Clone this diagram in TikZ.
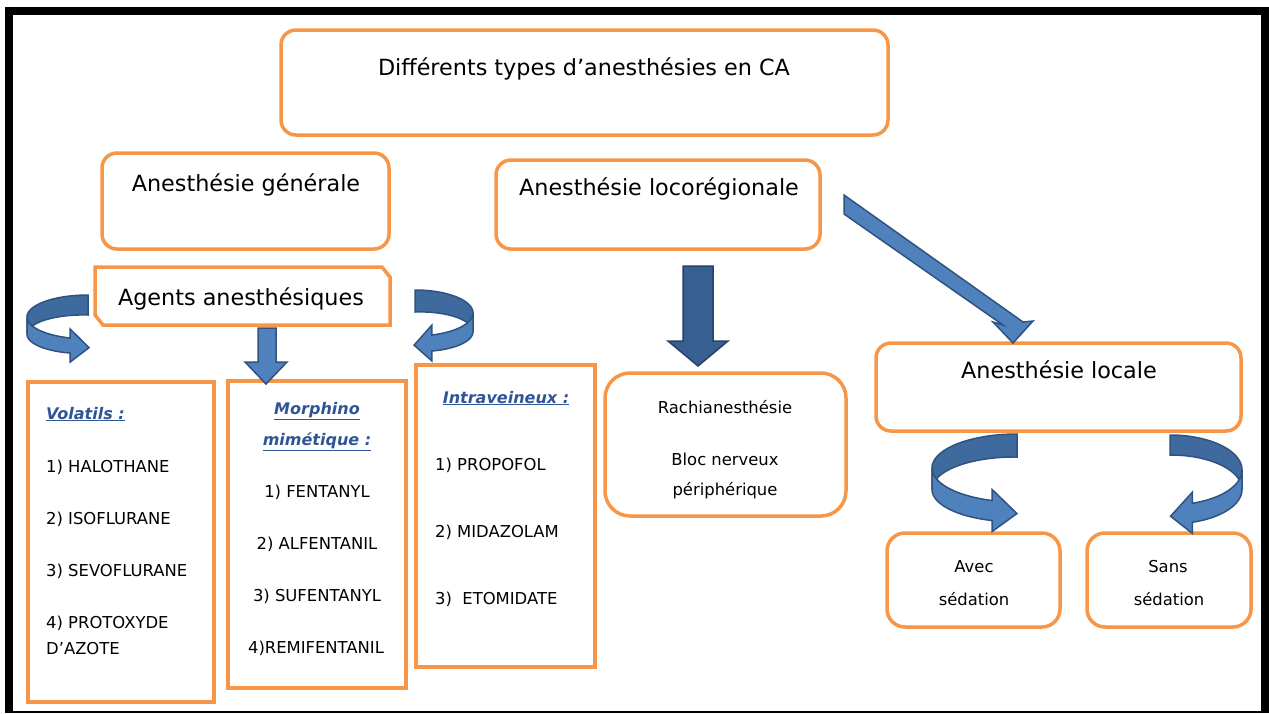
\documentclass[tikz,border=0pt]{standalone}
\usepackage{fontspec}
\setmainfont{DejaVu Sans}
\definecolor{orng}{HTML}{F79646}
\definecolor{blueA}{HTML}{4F81BD}
\definecolor{blueB}{HTML}{3F6A9E}
\definecolor{blueD}{HTML}{375F91}
\definecolor{blueL}{HTML}{2F5281}
\definecolor{hdr}{HTML}{2F5597}
\newcommand{\curlarrow}[8]{%
\pgfmathsetmacro{\caX}{#1}%
\pgfmathsetmacro{\caY}{#2}%
\pgfmathsetmacro{\caA}{#3}%
\pgfmathsetmacro{\caB}{#4}%
\pgfmathsetmacro{\caH}{#5}%
\pgfmathsetmacro{\caK}{#6}%
\pgfmathsetmacro{\caS}{#7}%
\pgfmathsetmacro{\caE}{#8}%
\pgfmathsetmacro{\caM}{(\caE>\caS)?180:0}%
\pgfmathsetmacro{\caG}{(\caE>\caS)?1:-1}%
\pgfmathsetmacro{\caXe}{\caX+\caA*cos(\caE)}%
\pgfmathsetmacro{\caYe}{\caY-\caB*sin(\caE)}%
\pgfmathsetmacro{\caDx}{\caG*\caA*sin(\caE)*(-1)}%
\pgfmathsetmacro{\caDy}{\caG*\caB*cos(\caE)*(-1)}%
\pgfmathsetmacro{\caDn}{sqrt(\caDx*\caDx+\caDy*\caDy)}%
\pgfmathsetmacro{\caTx}{\caXe+\caL*\caDx/\caDn}%
\pgfmathsetmacro{\caTy}{\caYe+\caK/2+\caL*\caDy/\caDn}%
\draw[blk, fill=blueB] plot[domain=\caS:\caM, variable=\t, samples=40] ({\caX+\caA*cos(\t)},{\caY-\caB*sin(\t)})
  -- plot[domain=\caM:\caS, variable=\t, samples=40] ({\caX+\caA*cos(\t)},{\caY-\caB*sin(\t)+\caH+(\caK-\caH)*(\t-\caS)/(\caE-\caS)}) -- cycle;
\draw[blk] plot[domain=\caM:\caE, variable=\t, samples=40] ({\caX+\caA*cos(\t)},{\caY-\caB*sin(\t)})
  -- (\caXe,{\caYe-\caW}) -- (\caTx,\caTy) -- (\caXe,{\caYe+\caK+\caW})
  -- plot[domain=\caE:\caM, variable=\t, samples=40] ({\caX+\caA*cos(\t)},{\caY-\caB*sin(\t)+\caH+(\caK-\caH)*(\t-\caS)/(\caE-\caS)}) -- cycle;
}
\begin{document}
\begin{tikzpicture}[x=1pt,y=-1pt,
  rbox/.style={draw=orng, line width=3.5pt, rounded corners=15pt, fill=white, inner sep=0pt},
  sbox/.style={draw=orng, line width=3.5pt, fill=white, inner sep=0pt},
  bigt/.style={font=\fontsize{22.3}{26}\selectfont, inner sep=0pt, text height=16pt, text depth=0pt},
  smt/.style={font=\fontsize{16.4}{20}\selectfont, inner sep=0pt, text height=12pt, text depth=0pt},
  hdt/.style={font=\fontsize{16}{20}\selectfont\bfseries\itshape, text=hdr, inner sep=0pt, text height=12pt, text depth=0pt},
  blk/.style={fill=blueA, draw=blueL, line width=1.5pt, line join=miter}]
\useasboundingbox (0,0) rectangle (1269,713);
% page frame
\fill[black] (5,7) rectangle (1269,15);
\fill[black] (5,7) rectangle (13,713);
\fill[black] (1261,7) rectangle (1269,713);
\fill[black] (5,711) rectangle (1269,713);

% boxes
\node[rbox, minimum width=607pt, minimum height=105pt] (title) at (584.5,82.5) {};
\node[bigt] (titlet) at (584,67) {Différents types d’anesthésies en CA};
\node[rbox, minimum width=287pt, minimum height=96pt] (gen) at (245.5,201) {};
\node[bigt] (gent) at (246,183) {Anesthésie générale};
\node[rbox, minimum width=324pt, minimum height=89pt] (loco) at (658,204.5) {};
\node[bigt] (locot) at (659,187) {Anesthésie locorégionale};

\draw[draw=orng, line width=3.5pt, fill=white, line join=miter] (95,267) -- (382,267) -- (390,277) -- (390,325) -- (103,325) -- (95,315) -- cycle;
\node[bigt] (agents) at (241,297) {Agents anesthésiques};

\node[sbox, minimum width=186pt, minimum height=320pt] (vol) at (121,542) {};
\node[hdt, anchor=west] (volh) at (46,413) {\underline{Volatils :}};
\node[smt, anchor=west] (v1) at (46,466) {1) HALOTHANE};
\node[smt, anchor=west] (v2) at (46,518) {2) ISOFLURANE};
\node[smt, anchor=west] (v3) at (46,570) {3) SEVOFLURANE};
\node[smt, anchor=west] (v4) at (46,622) {4) PROTOXYDE};
\node[smt, anchor=west] (v4b) at (46,648) {D’AZOTE};

\node[sbox, minimum width=178pt, minimum height=307pt] (mor) at (317,534.5) {};
\node[hdt] (morh1) at (317,408) {\underline{Morphino}};
\node[hdt] (morh2) at (317,439) {\underline{mimétique :}};
\node[smt] (m1) at (317,491) {1) FENTANYL};
\node[smt] (m2) at (317,543) {2) ALFENTANIL};
\node[smt] (m3) at (317,595) {3) SUFENTANYL};
\node[smt] (m4) at (316,647) {4)REMIFENTANIL};

\node[sbox, minimum width=179pt, minimum height=302pt] (intra) at (505.5,516) {};
\node[hdt] (intrah) at (506,397) {\underline{Intraveineux :}};
\node[smt, anchor=west] (i1) at (435,464) {1) PROPOFOL};
\node[smt, anchor=west] (i2) at (435,531) {2) MIDAZOLAM};
\node[smt, anchor=west] (i3) at (435,598) {3)\ \ ETOMIDATE};

\node[rbox, rounded corners=25pt, minimum width=241pt, minimum height=143pt] (rachi) at (725.5,444.5) {};
\node[smt] (rachit) at (725,407) {Rachianesthésie};
\node[smt] (bloc) at (725,459) {Bloc nerveux};
\node[smt] (periph) at (725,489) {périphérique};

\node[rbox, minimum width=365pt, minimum height=88pt] (locale) at (1058.5,387) {};
\node[bigt] (localet) at (1059,370) {Anesthésie locale};

\node[rbox, rounded corners=18pt, minimum width=173pt, minimum height=94pt] (avec) at (973.5,580) {};
\node[smt] (avect) at (974,566) {Avec};
\node[smt] (avecs) at (974,599) {sédation};
\node[rbox, rounded corners=18pt, minimum width=164pt, minimum height=94pt] (sans) at (1169,580) {};
\node[smt] (sanst) at (1168,566) {Sans};
\node[smt] (sanss) at (1169,599) {sédation};

% block arrows
\draw[blk, fill=blueD, draw=blueL!80!black] (683,266) -- (713,266) -- (713,341) -- (728,341) -- (698,366) -- (668,341) -- (683,341) -- cycle;
\draw[blk] (258,328) -- (276,328) -- (276,362) -- (287,362) -- (266,384) -- (245,362) -- (258,362) -- cycle;
\draw[blk] (844,195) -- (1023,322) -- (1033,321) -- (1013,343) -- (993,322) -- (1003,325) -- (844,214) -- cycle;

% curved arrows
\def\caL{19}\def\caW{9}
\curlarrow{88}{317}{61}{22}{20}{15}{90}{253}
\def\caL{18}\def\caW{10}
\curlarrow{415}{313}{58}{23}{22}{16}{90}{-73}
\def\caL{25}\def\caW{11}
\curlarrow{1017}{468}{85}{34}{23}{20}{90}{253}
\def\caL{22}\def\caW{11}
\curlarrow{1170}{470}{72}{35}{20}{19}{90}{-72}
\end{tikzpicture}
\end{document}
